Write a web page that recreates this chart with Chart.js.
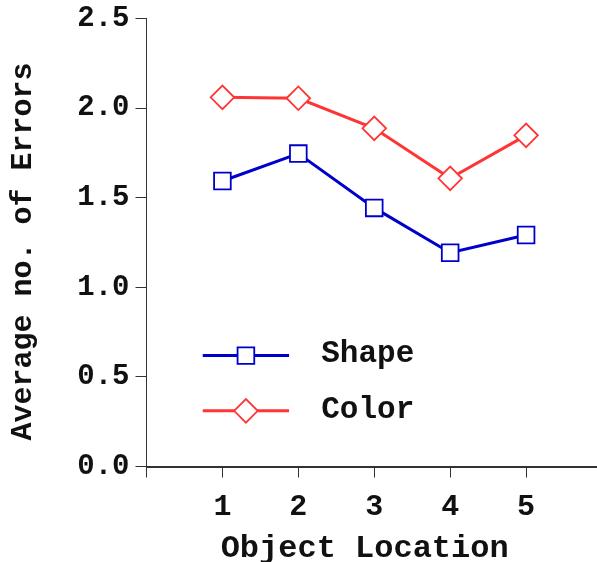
<!DOCTYPE html>
<html>
<head>
<meta charset="utf-8">
<script src="https://cdn.jsdelivr.net/npm/chart.js@4/dist/chart.umd.min.js"></script>
<style>
  html, body { margin: 0; padding: 0; background: #fff; overflow: hidden; }
</style>
</head>
<body>
<canvas id="chart" width="602" height="562"></canvas>
<script>
// data
var locations = [1, 2, 3, 4, 5];
var shapeErrors = [1.593, 1.746, 1.443, 1.193, 1.292];
var colorErrors = [2.06, 2.055, 1.887, 1.608, 1.848];
var yTicks = [0, 0.5, 1, 1.5, 2, 2.5];

var FONT = "'Liberation Mono', 'Courier New', monospace";
var BLUE = '#0000cc';
var RED = '#ff3535';

var toPoints = function(vals) {
  return locations.map(function(loc, i) { return { x: loc, y: vals[i] }; });
};

// draws the little legend inside the plot (line + marker + label)
var insideLegend = {
  id: 'insideLegend',
  afterDatasetsDraw: function(chart) {
    var ctx = chart.ctx;
    var a = chart.chartArea;
    var w = a.right - a.left, h = a.bottom - a.top;
    chart.data.datasets.forEach(function(ds, i) {
      var y = a.top + h * (0.7525 + i * 0.1232);
      var x1 = a.left + w * 0.1235, x2 = a.left + w * 0.313;
      var xm = (x1 + x2) / 2;
      ctx.save();
      ctx.strokeStyle = ds.borderColor;
      ctx.lineWidth = 3;
      ctx.beginPath();
      ctx.moveTo(x1, y);
      ctx.lineTo(x2, y);
      ctx.stroke();
      var r = ds.pointRadius;
      ctx.lineWidth = ds.pointBorderWidth;
      ctx.fillStyle = '#fff';
      ctx.beginPath();
      if (ds.pointStyle === 'rect') {
        var s = r * Math.SQRT1_2;
        ctx.rect(xm - s, y - s, 2 * s, 2 * s);
      } else {
        ctx.moveTo(xm - r, y);
        ctx.lineTo(xm, y - r);
        ctx.lineTo(xm + r, y);
        ctx.lineTo(xm, y + r);
        ctx.closePath();
      }
      ctx.fill();
      ctx.stroke();
      ctx.fillStyle = '#111';
      ctx.font = 'bold 31px ' + FONT;
      ctx.textBaseline = 'middle';
      ctx.fillText(ds.label, a.left + w * 0.3836, y - 1);
      ctx.restore();
    });
  }
};

new Chart(document.getElementById('chart').getContext('2d'), {
  type: 'line',
  data: {
    datasets: [{
      label: 'Shape',
      data: toPoints(shapeErrors),
      borderColor: BLUE,
      borderWidth: 3,
      pointStyle: 'rect',
      pointRadius: 11.8,
      pointBorderWidth: 1.8,
      pointBackgroundColor: '#fff',
      pointBorderColor: BLUE,
      lineTension: 0
    }, {
      label: 'Color',
      data: toPoints(colorErrors),
      borderColor: RED,
      borderWidth: 3,
      pointStyle: 'rectRot',
      pointRadius: 11.8,
      pointBorderWidth: 1.8,
      pointBackgroundColor: '#fff',
      pointBorderColor: RED,
      lineTension: 0
    }]
  },
  options: {
    responsive: false,
    animation: false,
    layout: { autoPadding: false, padding: { top: 18.5, right: 0, bottom: 0, left: 0 } },
    plugins: { legend: { display: false }, tooltip: { enabled: false } },
    scales: {
      x: {
        type: 'linear',
        min: 0,
        max: 6,
        afterFit: function(s) { s.height = 95.5; s.paddingLeft = 0; s.paddingRight = 0; },
        border: { display: true, color: '#333', width: 2 },
        grid: { drawOnChartArea: false, tickLength: 11, color: '#333', lineWidth: 1 },
        ticks: {
          stepSize: 1,
          padding: 12,
          color: '#111',
          font: { family: FONT, size: 30, weight: 'bold' },
          callback: function(v) { return locations.indexOf(v) >= 0 ? String(v) : ''; }
        },
        title: {
          display: true,
          text: 'Object Location ',
          color: '#111',
          padding: { top: 0, bottom: 3 },
          font: { family: FONT, size: 32, weight: 'bold', lineHeight: 0.62 }
        }
      },
      y: {
        min: 0,
        max: 2.5,
        afterFit: function(s) { s.width = 146.5; s.paddingTop = 0; s.paddingBottom = 0; },
        afterBuildTicks: function(s) { s.ticks = yTicks.map(function(v) { return { value: v }; }); },
        border: { display: true, color: '#333', width: 1 },
        grid: { drawOnChartArea: false, tickLength: 11, color: '#333', lineWidth: 1 },
        ticks: {
          padding: 6,
          color: '#111',
          font: { family: FONT, size: 29, weight: 'bold' },
          callback: function(v) { return v.toFixed(1); }
        },
        title: {
          display: true,
          text: 'Average no. of Errors ',
          color: '#111',
          padding: { top: 5, bottom: 0 },
          font: { family: FONT, size: 30, weight: 'bold' }
        }
      }
    }
  },
  plugins: [insideLegend]
});
</script>
</body>
</html>
